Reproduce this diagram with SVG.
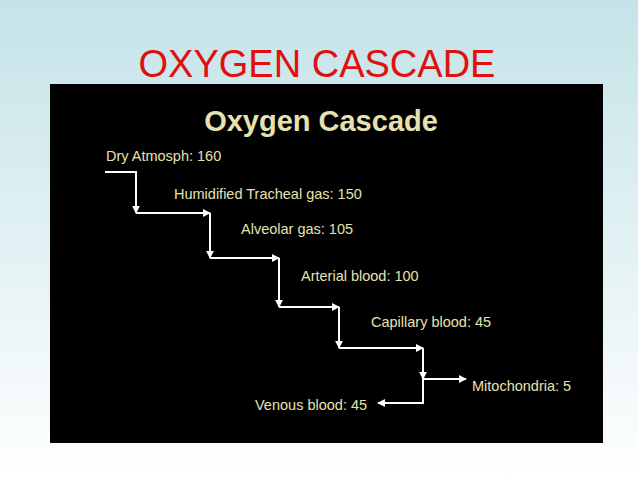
<svg xmlns="http://www.w3.org/2000/svg" width="638" height="479" viewBox="0 0 638 479">
<defs>
<linearGradient id="bg" x1="0" y1="0" x2="0" y2="1"><stop offset="0" stop-color="#c4e3e8"/><stop offset="1" stop-color="#ffffff"/></linearGradient>
<marker id="ah" viewBox="0 0 10 10" refX="9" refY="5" markerWidth="4" markerHeight="4" orient="auto"><path d="M0,0L10,5L0,10z" fill="#fff"/></marker>
<style>
.l{fill:#e6e2b0;font-family:"Liberation Sans",Arial,sans-serif;font-size:14.5px}
.c{fill:none;stroke:#fff;stroke-width:2;marker-end:url(#ah)}
</style>
</defs>
<rect width="638" height="479" fill="url(#bg)"/>
<text x="317" y="77" text-anchor="middle" font-family="'Liberation Sans',Arial,sans-serif" font-size="38" fill="#e01010">OXYGEN CASCADE</text>
<rect x="50" y="84" width="553" height="359" fill="#000"/>
<text x="321" y="131" text-anchor="middle" font-family="'Liberation Sans',Arial,sans-serif" font-size="29" font-weight="bold" fill="#e6e2b0">Oxygen Cascade</text>
<g id="connectors">
<path class="c" d="M105,172H136V213"/>
<path class="c" d="M136,213H210"/>
<path class="c" d="M210,213V258"/>
<path class="c" d="M210,258H279"/>
<path class="c" d="M279,258V307"/>
<path class="c" d="M279,307H339"/>
<path class="c" d="M339,307V348"/>
<path class="c" d="M339,348H423"/>
<path class="c" d="M423,348V379"/>
<path class="c" d="M423,379H466"/>
<path class="c" d="M423,379V403H378"/>
</g>
<g id="n1"><text class="l" x="106" y="161">Dry Atmosph: 160</text></g>
<g id="n2"><text class="l" x="174" y="199">Humidified Tracheal gas: 150</text></g>
<g id="n3"><text class="l" x="241" y="234">Alveolar gas: 105</text></g>
<g id="n4"><text class="l" x="301" y="281">Arterial blood: 100</text></g>
<g id="n5"><text class="l" x="371" y="327">Capillary blood: 45</text></g>
<g id="n6"><text class="l" x="472" y="391">Mitochondria: 5</text></g>
<g id="n7"><text class="l" x="255" y="410">Venous blood: 45</text></g>
</svg>
